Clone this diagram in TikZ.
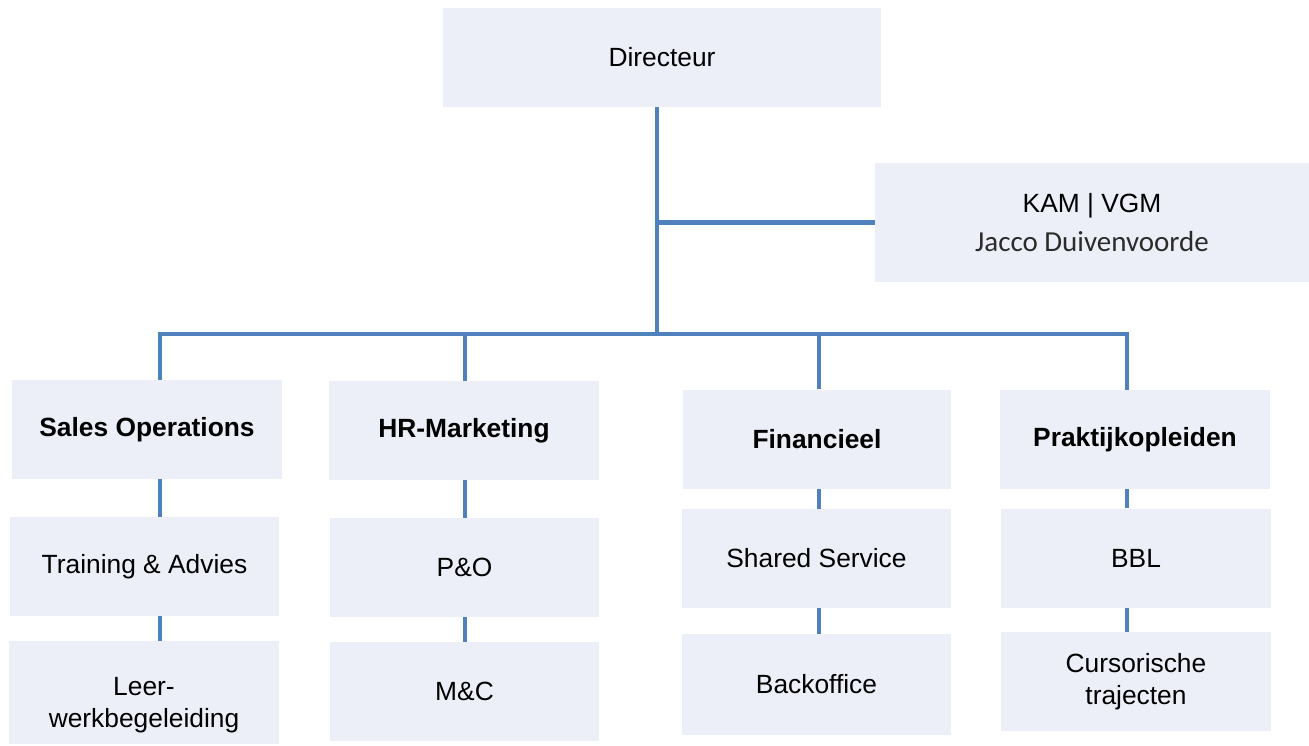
\documentclass[tikz,border=0pt]{standalone}
\usepackage{fontspec}
\setmainfont{Liberation Sans}
\newfontfamily\carlito{Carlito}
\definecolor{boxfill}{HTML}{ECEFF8}
\definecolor{orgline}{HTML}{4F81BD}
\definecolor{namegray}{HTML}{2B2B2B}
\tikzset{
    unit/.style={fill=boxfill,inner sep=0pt,align=center,minimum width=5.4cm,minimum height=1.98cm,font=\fontsize{15}{18}\selectfont},
    dept/.style={unit,font=\fontsize{15}{18}\selectfont\bfseries},
    link/.style={draw=orgline,line width=2.3pt}
}

\begin{document}
\begin{tikzpicture}[x=0.02cm,y=-0.02cm]
    \useasboundingbox (0,0) rectangle (1309,745);
    \node[unit,minimum width=8.76cm] at (662,57.5) (dir) {Directeur};
    \node[unit,minimum width=8.68cm,minimum height=2.38cm] at (1092,222.5) (kam) {KAM | VGM\\[4pt]{\carlito\fontsize{16.5}{18}\selectfont\color{namegray}Jacco Duivenvoorde}};
    \node[dept] at (147,429.5) (so) {Sales Operations};
    \node[dept] at (464,430.5) (hr) {HR-Marketing};
    \node[dept,minimum width=5.36cm] at (817,439) (fin) {Financieel};
    \node[dept] at (1135,439.5) (pk) {Praktijkopleiden};
    \node[unit,minimum width=5.38cm] at (144.5,566.5) (ta) {Training \& Advies};
    \node[unit,minimum height=2.06cm,text height=43pt] at (144,692.5) (lw) {Leer-\\werkbegeleiding};
    \node[unit,minimum width=5.38cm] at (464.5,567.5) (po) {P\&O};
    \node[unit,minimum width=5.38cm] at (464.5,691.5) (mc) {M\&C};
    \node[unit,minimum width=5.38cm] at (816.5,558.5) (ss) {Shared Service};
    \node[unit,minimum width=5.38cm,minimum height=2.02cm] at (816.5,684.5) (bo) {Backoffice};
    \node[unit] at (1136,558) (bbl) {BBL};
    \node[unit] at (1136,681.5) (ct) {Cursorische\\trajecten};
    \coordinate (spine) at (657,334);
    \coordinate (c1) at (160,334);
    \coordinate (c2) at (465,334);
    \coordinate (c3) at (819,334);
    \coordinate (c4) at (1127,334);
    \draw[link] (spine |- dir.south) -- (spine);
    \draw[link] (spine |- kam.west) -- (kam.west);
    \draw[link] (c1 |- so.north) -- (c1) -- (c4) -- (c4 |- pk.north);
    \draw[link] (c2) -- (c2 |- hr.north);
    \draw[link] (c3) -- (c3 |- fin.north);
    \draw[link] (c1 |- so.south) -- (c1 |- ta.north);
    \draw[link] (c1 |- ta.south) -- (c1 |- lw.north);
    \draw[link] (c2 |- hr.south) -- (c2 |- po.north);
    \draw[link] (c2 |- po.south) -- (c2 |- mc.north);
    \draw[link] (c3 |- fin.south) -- (c3 |- ss.north);
    \draw[link] (c3 |- ss.south) -- (c3 |- bo.north);
    \draw[link] (c4 |- pk.south) -- (c4 |- bbl.north);
    \draw[link] (c4 |- bbl.south) -- (c4 |- ct.north);
\end{tikzpicture}
\end{document}
